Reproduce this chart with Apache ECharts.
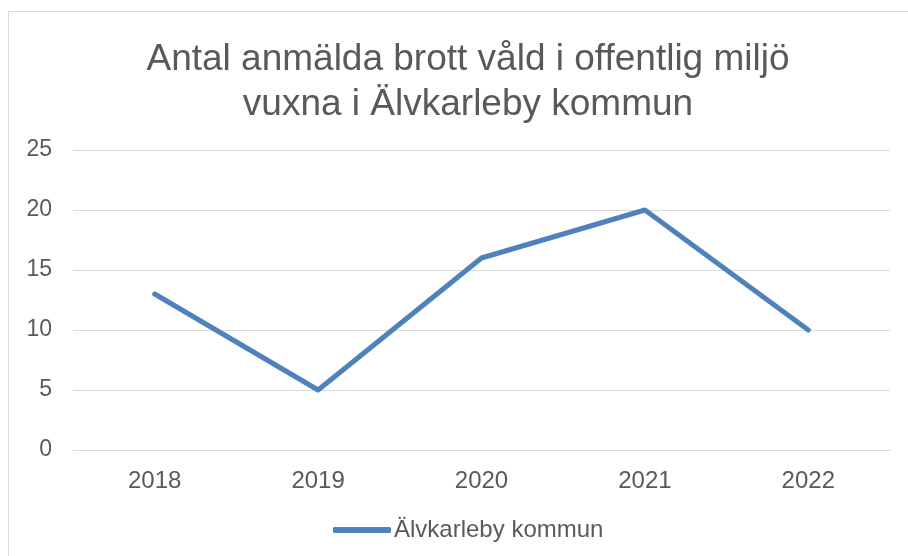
<!DOCTYPE html>
<html><head><meta charset="utf-8">
<script src="https://cdn.jsdelivr.net/npm/echarts@6/dist/echarts.min.js"></script>
<style>html,body{margin:0;padding:0;background:#fff}#c{width:908px;height:556px}</style>
</head><body><div id="c"></div>
<script>
const titleLines = ["Antal anmälda brott våld i offentlig miljö", "vuxna i Älvkarleby kommun"];
const categories = ["2018", "2019", "2020", "2021", "2022"];
const seriesName = "Älvkarleby kommun";
const values = [13, 5, 16, 20, 10];
const yTicks = { min: 0, max: 25, interval: 5 };

const chart = echarts.init(document.getElementById('c'), null, { renderer: 'canvas' });
const font = '"Liberation Sans", Arial, sans-serif';
chart.setOption({
  animation: false,
  backgroundColor: '#fff',
  graphic: [{
    type: 'rect', shape: { x: 8.5, y: 11.5, width: 920, height: 560 },
    style: { fill: 'none', stroke: '#d9d9d9', lineWidth: 1 }, silent: true, z: 0
  }],
  title: {
    text: titleLines.join('\n'),
    left: 463, top: 32, textAlign: 'center',
    textStyle: { fontFamily: font, fontSize: 37, fontWeight: 'normal', color: '#595959', lineHeight: 45 }
  },
  grid: { left: 73, right: 18, top: 150, bottom: 106, containLabel: false },
  xAxis: {
    type: 'category', data: categories, boundaryGap: true,
    axisLine: { show: true, lineStyle: { color: '#d9d9d9', width: 1 } },
    axisTick: { show: false },
    axisLabel: { fontFamily: font, fontSize: 24, color: '#595959', margin: 19 }
  },
  yAxis: {
    type: 'value', min: yTicks.min, max: yTicks.max, interval: yTicks.interval,
    axisLine: { show: false }, axisTick: { show: false },
    splitLine: { lineStyle: { color: '#d9d9d9', width: 1 } },
    axisLabel: { fontFamily: font, fontSize: 23, color: '#595959', margin: 21 }
  },
  legend: {
    bottom: 9, left: 328,
    itemWidth: 58, itemHeight: 6, itemGap: 10,
    icon: 'roundRect',
    textStyle: { fontFamily: font, fontSize: 24, color: '#595959', padding: [0,0,0,-2] },
    data: [seriesName]
  },
  series: [{
    name: seriesName, type: 'line', data: values,
    showSymbol: false, symbol: 'none',
    lineStyle: { color: '#4f81bd', width: 5, cap: 'round', join: 'round' },
    itemStyle: { color: '#4f81bd' }
  }]
});
</script></body></html>
